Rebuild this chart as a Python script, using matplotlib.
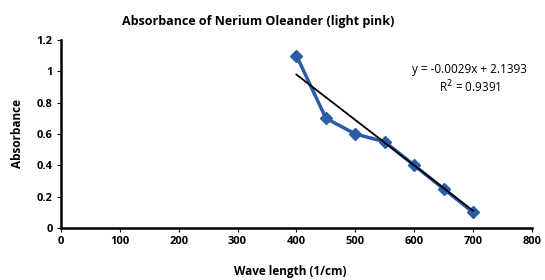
import numpy as np
import matplotlib.pyplot as plt

wavelength = [400, 450, 500, 550, 600, 650, 700]
absorbance = [1.1, 0.7, 0.6, 0.55, 0.4, 0.25, 0.1]
slope = -0.0029
intercept = 2.1393
r2 = 0.9391

plt.rcParams['font.family'] = ['Open Sans', 'DejaVu Sans']

fig = plt.figure(figsize=(5.45, 2.8), dpi=100)
ax = fig.add_axes([0.112, 0.186, 0.864, 0.671])

ax.plot(wavelength, absorbance, '-D', color='#2a5ca8', lw=2.5, ms=6,
        markeredgecolor='#2a5ca8')
xs = np.array([wavelength[0], wavelength[-1]])
ax.plot(xs, slope * xs + intercept, color='black', lw=1.3)

ax.set_xlim(0, 800)
ax.set_ylim(0, 1.2)
ax.set_xticks(range(0, 801, 100))
ax.set_yticks([0, 0.2, 0.4, 0.6, 0.8, 1, 1.2])
ax.set_yticklabels(['0', '0.2', '0.4', '0.6', '0.8', '1', '1.2'])
for s in ['top', 'right']:
    ax.spines[s].set_visible(False)
for s in ['left', 'bottom']:
    ax.spines[s].set_linewidth(1.8)
ax.tick_params(direction='out', length=3, width=0.8, labelsize=8, pad=3)
for lbl in ax.get_xticklabels() + ax.get_yticklabels():
    lbl.set_fontweight('bold')

# title sits a bit left of the axes centre, as in the original
fig.text(0.473, 0.925, 'Absorbance of Nerium Oleander (light pink)', fontsize=9,
         fontweight='bold', ha='center', va='center')
ax.set_xlabel('Wave length (1/cm)', fontsize=8.5, fontweight='bold', labelpad=7)
ax.xaxis.set_label_coords(0.487, -0.2)
ax.set_ylabel('Absorbance', fontsize=8.5, fontweight='bold', labelpad=9)

ax.text(0.868, 0.79, 'y = -0.0029x + 2.1393\nR$^2$ = 0.9391', transform=ax.transAxes,
        fontsize=8.5, ha='center', va='center', linespacing=1.2)

fig.savefig('out.png', dpi=100)
